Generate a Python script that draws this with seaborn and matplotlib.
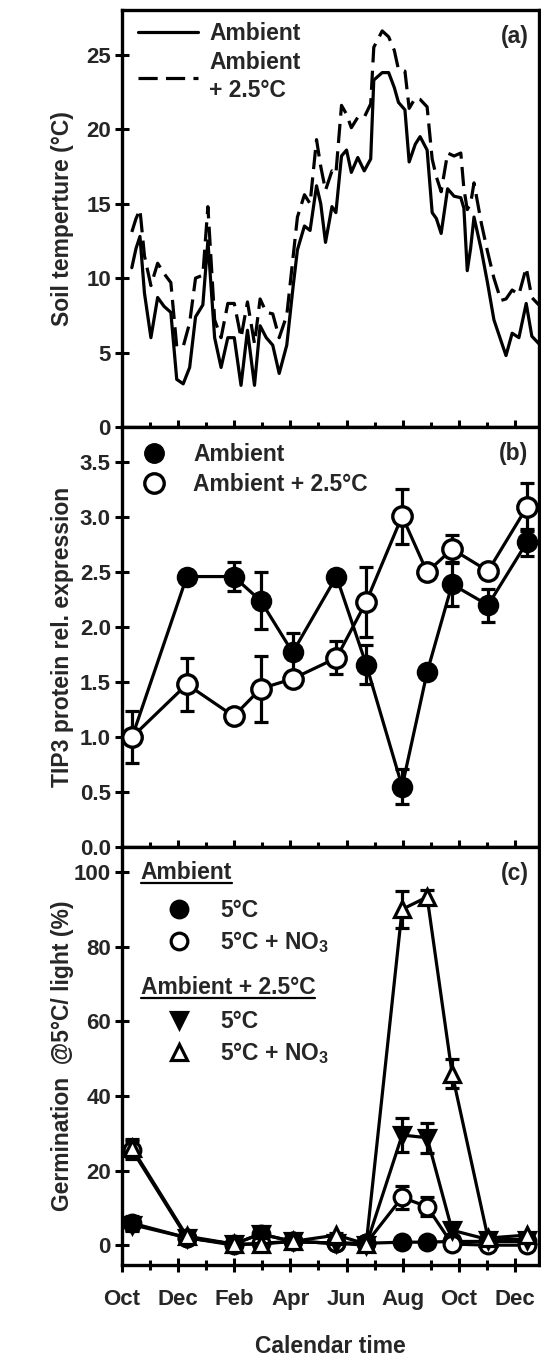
import numpy as np
import pandas as pd
import matplotlib
matplotlib.use("Agg")
import matplotlib.pyplot as plt
import seaborn as sns
from matplotlib.lines import Line2D
from matplotlib.ticker import FixedLocator, FormatStrFormatter

# ---------------- data ----------------
# months since 1 October (first year)
temp_month = [0.35, 0.50, 0.64, 0.80, 1.03, 1.27, 1.50, 1.74, 1.95, 2.18, 2.41, 2.62,
              2.88, 3.06, 3.30, 3.53, 3.77, 4.00, 4.24, 4.47, 4.72, 4.92, 5.14, 5.37,
              5.60, 5.87, 6.10, 6.25, 6.50, 6.70, 6.93, 7.08, 7.25, 7.48, 7.62, 7.82,
              8.00, 8.17, 8.40, 8.63, 8.86, 8.97, 9.27, 9.50, 9.70, 9.85, 10.08, 10.23,
              10.45, 10.62, 10.87, 11.05, 11.20, 11.37, 11.60, 11.83, 12.07, 12.18, 12.30,
              12.42, 12.54, 12.80, 13.02, 13.25, 13.50, 13.68, 13.90, 14.14, 14.40, 14.60, 14.85]
temp_ambient = [10.7, 12.0, 12.8, 9.0, 6.0, 8.7, 8.1, 7.7, 3.2, 2.9, 4.0, 7.4,
                8.2, 12.5, 6.0, 4.0, 6.0, 6.0, 2.8, 6.5, 2.8, 6.8, 6.0, 5.5,
                3.6, 5.5, 9.5, 11.9, 13.5, 13.2, 16.2, 15.0, 12.4, 14.8, 14.4, 18.2,
                18.6, 17.1, 18.1, 17.2, 18.0, 23.3, 23.8, 23.8, 22.8, 21.8, 21.3, 17.8,
                19.0, 19.5, 18.6, 14.4, 14.0, 13.0, 16.0, 15.5, 15.4, 14.7, 10.5,
                12.0, 14.1, 11.9, 9.7, 7.2, 5.8, 4.8, 6.3, 6.0, 8.3, 6.1, 5.6]
temp_warm = [13.1, 14.0, 14.6, 11.5, 9.5, 11.0, 10.3, 9.7, 5.4, 5.4, 7.0, 10.0,
             10.2, 14.8, 7.2, 6.0, 8.3, 8.3, 6.0, 8.4, 5.6, 8.6, 7.7, 7.6,
             6.0, 7.5, 11.5, 14.1, 15.6, 15.0, 19.3, 17.5, 15.9, 17.2, 17.0, 21.6,
             21.0, 20.1, 20.8, 20.8, 21.7, 25.5, 26.6, 26.2, 25.3, 24.0, 23.9, 21.4,
             22.1, 22.0, 21.5, 18.0, 16.8, 15.8, 18.4, 18.2, 18.4, 16.0, 14.6,
             15.0, 16.4, 13.7, 11.8, 10.0, 8.5, 8.6, 9.2, 8.9, 10.7, 8.7, 8.2]

sample_month = [0.36, 2.31, 3.98, 4.94, 6.08, 7.64, 8.70, 9.98, 10.87, 11.76, 13.04, 14.42]

tip3_ambient = [1.00, 2.46, 2.46, 2.24, 1.77, 2.46, 1.66, 0.55, 1.59, 2.39, 2.20, 2.77]
tip3_ambient_err = [0.04, 0.04, 0.13, 0.26, 0.18, 0.04, 0.18, 0.16, 0.04, 0.20, 0.15, 0.12]
tip3_warm = [1.00, 1.48, 1.19, 1.44, 1.53, 1.72, 2.23, 3.01, 2.50, 2.71, 2.51, 3.09]
tip3_warm_err = [0.24, 0.24, 0.04, 0.30, 0.05, 0.15, 0.32, 0.25, 0.04, 0.13, 0.04, 0.22]

germ_amb_5 = [5.9, 2.0, 0.3, 3.0, 1.0, 0.5, 0.5, 0.8, 0.8, 1.0, 1.0, 1.0]
germ_amb_5_err = [2.0, 0.5, 0.3, 1.5, 0.3, 0.3, 0.3, 0.3, 0.3, 0.5, 0.5, 0.5]
germ_amb_no3 = [25.5, 2.0, 0.0, 0.5, 1.0, 0.5, 0.5, 12.8, 10.3, 0.3, 0.0, 0.0]
germ_amb_no3_err = [2.5, 0.5, 0.3, 0.3, 0.3, 0.3, 0.3, 3.0, 2.5, 0.5, 0.3, 0.3]
germ_warm_5 = [5.5, 2.0, 0.3, 3.0, 1.0, 0.5, 0.0, 29.5, 28.8, 4.0, 1.5, 1.5]
germ_warm_5_err = [1.5, 0.5, 0.3, 1.0, 0.3, 0.3, 0.3, 4.5, 4.0, 1.5, 0.5, 0.5]
germ_warm_no3 = [26.0, 2.4, 0.3, 0.3, 1.0, 2.7, 0.3, 90.0, 93.3, 46.0, 1.9, 2.7]
germ_warm_no3_err = [2.5, 1.0, 0.3, 0.3, 0.3, 0.5, 0.3, 5.0, 2.0, 4.0, 0.5, 0.5]

month_ticks = [0, 2, 4, 6, 8, 10, 12, 14]
month_labels = ["Oct", "Dec", "Feb", "Apr", "Jun", "Aug", "Oct", "Dec"]

# ---------------- style ----------------
sns.set_theme(style="ticks")
plt.rcParams["font.family"] = ["Liberation Sans", "DejaVu Sans"]
plt.rcParams["font.weight"] = "bold"
plt.rcParams["axes.labelweight"] = "bold"
plt.rcParams["mathtext.fontset"] = "custom"
plt.rcParams["mathtext.rm"] = "Liberation Sans:bold"
plt.rcParams["mathtext.bf"] = "Liberation Sans:bold"
plt.rcParams["mathtext.default"] = "rm"

FS = 16
LFS = 16.5
LW = 2.3

fig = plt.figure(figsize=(5.41, 13.6), dpi=100)
L, W = 0.2255, 0.7705
ax_a = fig.add_axes([L, 0.686, W, 0.3066])
ax_b = fig.add_axes([L, 0.3772, W, 0.3088], sharex=ax_a)
ax_c = fig.add_axes([L, 0.0699, W, 0.3073], sharex=ax_a)

for ax in (ax_a, ax_b, ax_c):
    for s in ax.spines.values():
        s.set_linewidth(2.4)
        s.set_color("black")
    ax.tick_params(which="major", direction="inout", length=10, width=2.2,
                   labelsize=FS, pad=3, color="black")
    ax.tick_params(which="minor", direction="inout", length=7, width=2.2, color="black")
    ax.set_xlim(0, 14.85)
    ax.xaxis.set_major_locator(FixedLocator(month_ticks))
    ax.xaxis.set_minor_locator(FixedLocator([1, 3, 5, 7, 9, 11, 13]))

# ---------------- panel a ----------------
df_a = pd.DataFrame({
    "month": temp_month * 2,
    "temp": temp_ambient + temp_warm,
    "trt": ["Ambient"] * len(temp_month) + ["Warm"] * len(temp_month),
})
sns.lineplot(data=df_a, x="month", y="temp", style="trt",
             dashes={"Ambient": "", "Warm": (6, 2.6)}, color="black",
             linewidth=LW, legend=False, ax=ax_a, estimator=None, sort=False)
ax_a.set_ylim(0, 28)
ax_a.set_yticks([0, 5, 10, 15, 20, 25])
handles_a = [Line2D([], [], color="black", lw=LW),
             Line2D([], [], color="black", lw=LW, ls=(0, (6, 2.6)))]
leg_a = ax_a.legend(handles_a, ["Ambient", "Ambient\n+ 2.5°C"], loc="upper left",
                    bbox_to_anchor=(-0.01, 1.02), frameon=False, fontsize=LFS,
                    handlelength=2.6, handletextpad=0.5, labelspacing=0.25)
for t in leg_a.get_texts():
    t.set_linespacing(1.3)
ax_a.set_ylabel("Soil temperture (°C)", fontsize=FS + 0.5, fontweight="bold")
ax_a.text(0.975, 0.965, "(a)", transform=ax_a.transAxes, ha="right", va="top",
          fontsize=LFS, fontweight="bold")

# ---------------- panel b ----------------
MS_B = 14
ax_b.errorbar(sample_month, tip3_ambient, yerr=tip3_ambient_err, fmt="none",
              ecolor="black", elinewidth=LW, capsize=5, capthick=LW, zorder=2)
sns.lineplot(x=sample_month, y=tip3_ambient, color="black", linewidth=LW,
             marker="o", markersize=MS_B, markerfacecolor="black",
             markeredgecolor="black", markeredgewidth=1.5, ax=ax_b, zorder=3)
ax_b.errorbar(sample_month, tip3_warm, yerr=tip3_warm_err, fmt="none",
              ecolor="black", elinewidth=LW, capsize=5, capthick=LW, zorder=4)
sns.lineplot(x=sample_month, y=tip3_warm, color="black", linewidth=LW,
             marker="o", markersize=MS_B, markerfacecolor="white",
             markeredgecolor="black", markeredgewidth=2.4, ax=ax_b, zorder=5)
ax_b.set_ylim(0, 3.82)
ax_b.set_yticks(np.arange(0, 3.51, 0.5))
ax_b.yaxis.set_major_formatter(FormatStrFormatter("%.1f"))
handles_b = [Line2D([], [], ls="none", marker="o", ms=MS_B, mfc="black", mec="black"),
             Line2D([], [], ls="none", marker="o", ms=MS_B, mfc="white", mec="black", mew=2.4)]
ax_b.legend(handles_b, ["Ambient", "Ambient + 2.5°C"], loc="upper left",
            bbox_to_anchor=(0.0, 1.012), frameon=False, fontsize=LFS,
            handlelength=1.0, handletextpad=1.2, labelspacing=0.32)
ax_b.set_ylabel("TIP3 protein rel. expression", fontsize=FS + 0.5, fontweight="bold")
ax_b.text(0.975, 0.965, "(b)", transform=ax_b.transAxes, ha="right", va="top",
          fontsize=LFS, fontweight="bold")

# ---------------- panel c ----------------
MS_C = 12
series_c = [
    (germ_amb_5, germ_amb_5_err, "o", "black"),
    (germ_amb_no3, germ_amb_no3_err, "o", "white"),
    (germ_warm_5, germ_warm_5_err, "v", "black"),
    (germ_warm_no3, germ_warm_no3_err, "^", "white"),
]
z = 2
for vals, errs, mk, fc in series_c:
    ax_c.errorbar(sample_month, vals, yerr=errs, fmt="none", ecolor="black",
                  elinewidth=LW, capsize=5, capthick=LW, zorder=z)
    sns.lineplot(x=sample_month, y=vals, color="black", linewidth=LW, marker=mk,
                 markersize=MS_C, markerfacecolor=fc, markeredgecolor="black",
                 markeredgewidth=2.3, ax=ax_c, zorder=z + 1)
    z += 2
ax_c.set_ylim(-5.3, 106.7)
ax_c.set_yticks([0, 20, 40, 60, 80, 100])
ax_c.set_ylabel("Germination  @5°C/ light (%)", fontsize=FS + 0.5, fontweight="bold")
ax_c.text(0.975, 0.965, "(c)", transform=ax_c.transAxes, ha="right", va="top",
          fontsize=LFS, fontweight="bold")

hc1 = [Line2D([], [], ls="none", marker="o", ms=MS_C, mfc="black", mec="black", mew=2.3),
       Line2D([], [], ls="none", marker="o", ms=MS_C, mfc="white", mec="black", mew=2.3)]
hc2 = [Line2D([], [], ls="none", marker="v", ms=MS_C, mfc="black", mec="black", mew=2.3),
       Line2D([], [], ls="none", marker="^", ms=MS_C, mfc="white", mec="black", mew=2.3)]
leg1 = ax_c.legend(hc1, ["5°C", "5°C + NO$_3$"], loc="upper left",
                   bbox_to_anchor=(0.06, 0.925), frameon=False, fontsize=LFS,
                   handlelength=1.0, handletextpad=1.3, labelspacing=0.3)
ax_c.add_artist(leg1)
leg2 = ax_c.legend(hc2, ["5°C", "5°C + NO$_3$"], loc="upper left",
                   bbox_to_anchor=(0.06, 0.66), frameon=False, fontsize=LFS,
                   handlelength=1.0, handletextpad=1.3, labelspacing=0.3)
hdr1 = ax_c.text(0.045, 0.94, "Ambient", transform=ax_c.transAxes, ha="left",
                 va="center", fontsize=LFS, fontweight="bold")
hdr2 = ax_c.text(0.045, 0.665, "Ambient + 2.5°C", transform=ax_c.transAxes, ha="left",
                 va="center", fontsize=LFS, fontweight="bold")

ax_c.set_xticklabels(month_labels)
ax_c.tick_params(axis="x", which="major", pad=12)
ax_c.set_xlabel("Calendar time", fontsize=LFS, fontweight="bold")
ax_c.xaxis.set_label_coords(0.5, -0.167)
plt.setp(ax_a.get_xticklabels(), visible=False)
plt.setp(ax_b.get_xticklabels(), visible=False)
for ax in (ax_a, ax_b, ax_c):
    for t in ax.get_yticklabels() + ax.get_xticklabels():
        t.set_fontweight("bold")
    ax.yaxis.set_label_coords(-0.115, 0.5)

# underline the legend headers
fig.canvas.draw()
inv = fig.transFigure.inverted()
for hdr in (hdr1, hdr2):
    bb = hdr.get_window_extent()
    (x0, y0), (x1, y1) = inv.transform([(bb.x0, bb.y0), (bb.x1, bb.y0)])
    fig.add_artist(Line2D([x0, x1], [y0 + 0.0005, y0 + 0.0005],
                          transform=fig.transFigure, color="black", lw=1.6))

fig.savefig("out.png", dpi=100)
